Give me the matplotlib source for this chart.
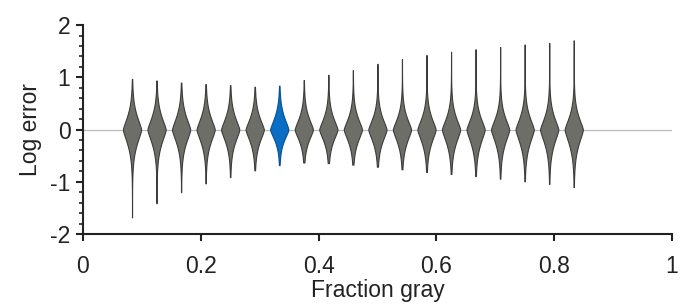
import numpy as np
import matplotlib.pyplot as plt
from matplotlib.ticker import MultipleLocator

plt.rcParams["font.family"] = ["Liberation Sans", "DejaVu Sans"]

# violin positions (fraction gray) and tail extents
fractions = [2 / 24, 3 / 24, 4 / 24, 5 / 24, 6 / 24, 7 / 24, 8 / 24, 9 / 24, 10 / 24, 11 / 24,
             12 / 24, 13 / 24, 14 / 24, 15 / 24, 16 / 24, 17 / 24, 18 / 24, 19 / 24, 20 / 24]
err_max = [0.97, 0.94, 0.90, 0.87, 0.85, 0.82, 0.84, 0.95, 1.05, 1.14,
           1.26, 1.35, 1.43, 1.49, 1.54, 1.58, 1.63, 1.66, 1.71]
err_min = [-1.68, -1.41, -1.20, -1.03, -0.91, -0.78, -0.68, -0.63, -0.64, -0.67,
           -0.71, -0.76, -0.81, -0.85, -0.89, -0.94, -0.99, -1.04, -1.10]
# rough half-height of the violin body (upper / lower)
body_up = [0.36, 0.35, 0.35, 0.34, 0.33, 0.32, 0.33, 0.32, 0.32, 0.32,
           0.32, 0.32, 0.33, 0.33, 0.33, 0.33, 0.34, 0.34, 0.34]
body_down = [0.38, 0.37, 0.36, 0.35, 0.34, 0.33, 0.28, 0.30, 0.31, 0.32,
             0.33, 0.34, 0.35, 0.36, 0.37, 0.37, 0.38, 0.38, 0.39]
highlight = 6

GRAY = "#6e6e69"
GRAY_EDGE = "#3c3c3a"
BLUE = "#0a6ec4"
BLUE_EDGE = "#07508f"
INK = "#222222"


def violin_stats(lo, hi, up, down):
    coords = np.linspace(lo, hi, 400)
    scale = np.where(coords >= 0, up, down)
    vals = np.exp(-(np.abs(coords) / scale) ** 1.4) + 0.05 * np.exp(-np.abs(coords) / 0.4)
    return dict(coords=coords, vals=vals, mean=0.0, median=0.0, min=lo, max=hi)


fig = plt.figure(figsize=(6.97, 3.06), dpi=100)
ax = fig.add_axes([0.119, 0.235, 0.845, 0.683])

ax.axhline(0, color="#bdbdbd", lw=0.9, zorder=0)

stats = [violin_stats(lo, hi, u, d) for lo, hi, u, d in zip(err_min, err_max, body_up, body_down)]
parts = ax.violin(stats, positions=fractions, widths=0.031,
                  showmeans=False, showextrema=False, showmedians=False)
for i, body in enumerate(parts["bodies"]):
    if i == highlight:
        body.set_facecolor(BLUE)
        body.set_edgecolor(BLUE_EDGE)
    else:
        body.set_facecolor(GRAY)
        body.set_edgecolor(GRAY_EDGE)
    body.set_alpha(1)
    body.set_linewidth(0.8)
    body.set_zorder(2)

ax.set_xlim(0, 1)
ax.set_ylim(-2, 2)
ax.set_xticks([0, 0.2, 0.4, 0.6, 0.8, 1])
ax.set_xticklabels(["0", "0.2", "0.4", "0.6", "0.8", "1"])
ax.set_yticks([-2, -1, 0, 1, 2])
ax.set_yticklabels(["-2", "-1", "0", "1", "2"])
ax.yaxis.set_minor_locator(MultipleLocator(0.2))

for side in ["top", "right"]:
    ax.spines[side].set_visible(False)
for side in ["left", "bottom"]:
    ax.spines[side].set_linewidth(1.5)
    ax.spines[side].set_color(INK)

ax.tick_params(axis="both", which="major", direction="out", length=5, width=1.5,
               color=INK, labelsize=16.5, labelcolor=INK, pad=4)
ax.tick_params(axis="x", which="major", pad=10)
ax.tick_params(axis="y", which="minor", direction="out", length=3, width=1.2, color=INK)

ax.set_xlabel("Fraction gray", fontsize=16.5, color=INK, labelpad=1)
ax.set_ylabel("Log error", fontsize=16.5, color=INK, labelpad=6)

fig.savefig("out.png", dpi=100)
